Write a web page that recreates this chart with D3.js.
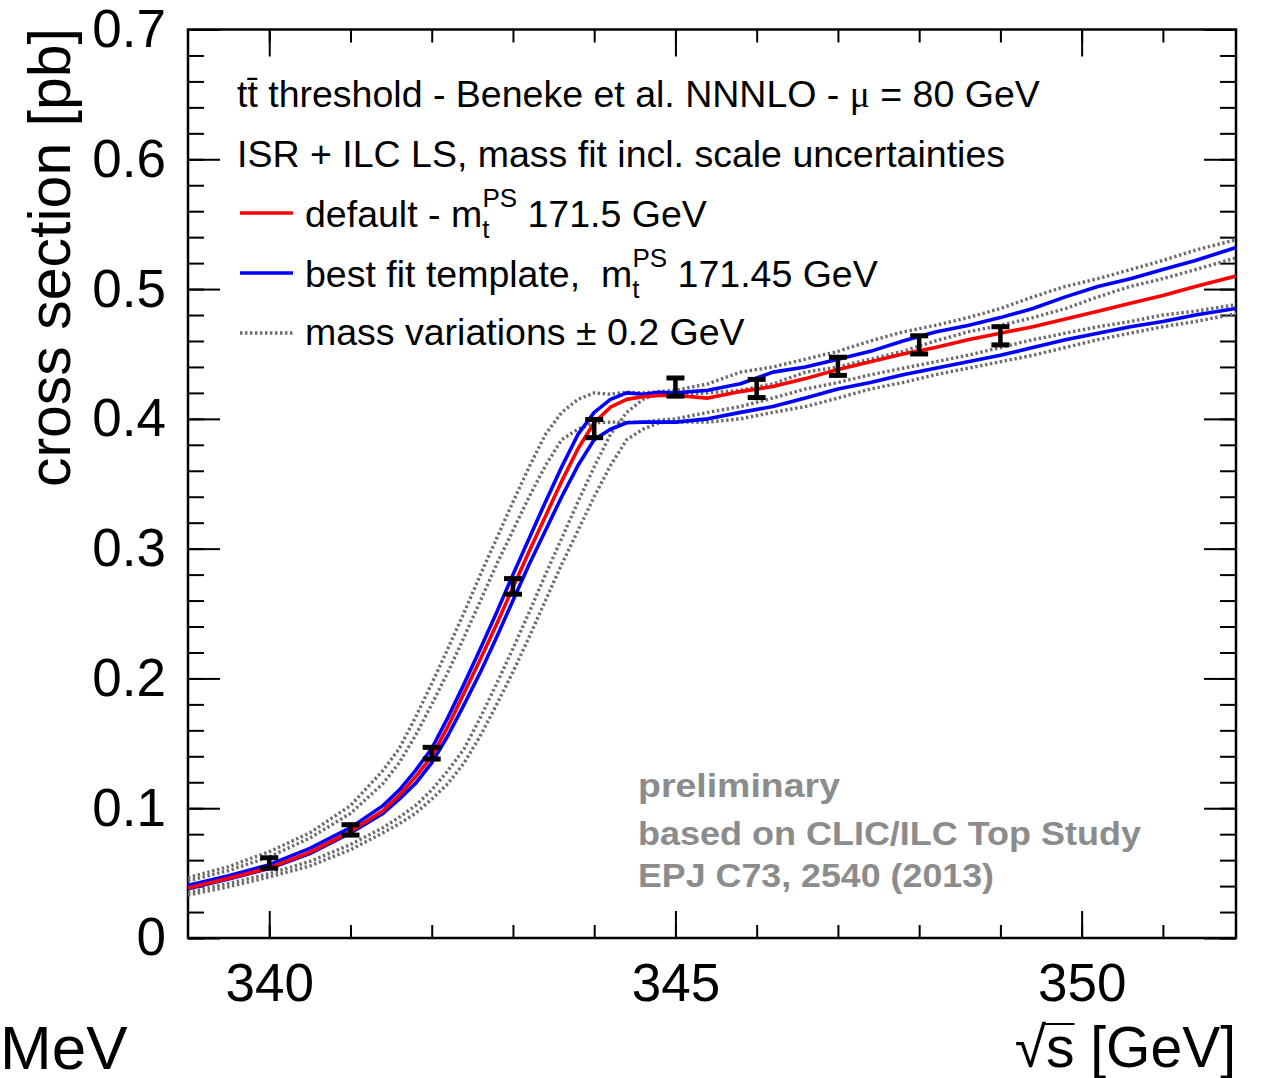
<!DOCTYPE html>
<html>
<head>
<meta charset="utf-8">
<script src="https://d3js.org/d3.v7.min.js"></script>
<style>
  body { margin: 0; background: #fff; }
  svg text { font-family: "Liberation Sans", Arial, Helvetica, sans-serif; fill: #000; }
  .axis path { display: none; }
  .axis line { stroke: #000; stroke-width: 2; }
  .axis text { font-size: 53px; }
  .curve { fill: none; stroke-width: 3.6; stroke-linejoin: round; }
  .dotted { fill: none; stroke: #6b6b6b; stroke-width: 3.4; stroke-dasharray: 2.4 2.6; }
  .legend text { font-size: 37.5px; white-space: pre; }
  .prelim text { font-size: 34px; font-weight: bold; fill: #8c8c8c; }
</style>
</head>
<body>
<script>
// sqrt(s) grid [GeV] shared by all curves
var sqrtS = [339.0, 339.5, 340.0, 340.5, 341.0, 341.4, 341.6, 341.8, 342.0, 342.2, 342.4, 342.6, 342.8,
             343.0, 343.2, 343.4, 343.6, 343.8, 344.0, 344.2, 344.4, 344.6, 344.8, 345.0, 345.4, 345.8,
             346.2, 346.6, 347.0, 347.4, 347.8, 348.2, 348.6, 349.0, 349.4, 349.8, 350.2, 350.6, 351.0,
             351.4, 351.9];

// default, m_t^PS = 171.5 GeV (red)
var defaultXs = [.0385, .046, .054, .066, .082, .098, .110, .124, .140, .163, .189, .215, .242,
                 .270, .298, .325, .352, .377, .397, .409, .415, .417, .418, .418, .416, .421,
                 .425, .431, .438, .444, .450, .455, .461, .466, .471, .477, .483, .489, .495,
                 .502, .510];

// best fit template, scale variation up / down (blue)
var fitUp = [.0405, .048, .0565, .069, .085, .102, .114, .129, .146, .170, .196, .223, .251,
             .280, .308, .336, .363, .388, .405, .415, .420, .419, .4205, .420, .422, .427,
             .436, .440, .446, .452, .460, .467, .472, .478, .485, .494, .502, .508, .515,
             .522, .532];
var fitDown = [.038, .0455, .0535, .065, .081, .096, .107, .119, .135, .156, .180, .205, .232,
               .260, .288, .314, .340, .364, .384, .392, .397, .3975, .3975, .3975, .400, .405,
               .4095, .416, .423, .428, .434, .439, .444, .449, .455, .461, .466, .471, .475,
               .480, .485];

// mass variations +-0.2 GeV (grey dotted)
var massUpHi = [.0465, .055, .0665, .081, .102, .129, .146, .170, .196, .223, .251, .280, .308,
                .336, .363, .388, .405, .415, .420, .419, .4205, .420, .421, .422, .427, .436,
                .440, .446, .452, .460, .467, .472, .478, .485, .494, .502, .508, .515, .522,
                .530, .538];
var massUpLo = [.035, .042, .0495, .059, .072, .085, .093, .102, .114, .129, .146, .170, .196,
                .223, .251, .280, .308, .336, .363, .388, .405, .415, .420, .419, .420, .422,
                .427, .436, .440, .446, .452, .460, .467, .472, .478, .485, .494, .502, .508,
                .515, .524];
var massDownHi = [.044, .052, .0625, .077, .096, .119, .135, .156, .180, .205, .232, .260, .288,
                  .314, .340, .364, .384, .392, .397, .3975, .3975, .3975, .399, .400, .405, .4095,
                  .416, .423, .428, .434, .439, .444, .449, .455, .461, .466, .471, .475, .480,
                  .483, .488];
var massDownLo = [.033, .0395, .047, .0555, .068, .081, .088, .096, .107, .119, .135, .156, .180,
                  .205, .232, .260, .288, .314, .340, .364, .384, .392, .397, .3975, .3975, .400,
                  .405, .4095, .416, .423, .428, .434, .439, .444, .449, .455, .461, .466, .471,
                  .475, .481];

// pseudo data points of the threshold scan
var scanS = [340, 341, 342, 343, 344, 345, 346, 347, 348, 349];
var scanXs = [.0578, .0833, .1424, .2709, .3925, .4245, .4234, .4405, .457, .464];
var scanErr = [.004, .004, .0045, .006, .007, .007, .007, .007, .007, .007];

// axis ticks
var xMajor = [340, 345, 350];
var xMinor = [340, 341, 342, 343, 344, 345, 346, 347, 348, 349, 350, 351];
var yMajor = [0, 0.1, 0.2, 0.3, 0.4, 0.5, 0.6, 0.7];
var yMinor = [];
for (var k = 0; k <= 35; k++) yMinor.push(k * 0.02);

var W = 1266, H = 1078;
var plotL = 188, plotR = 1236, plotT = 29.5, plotB = 938;

var svg = d3.select("body").append("svg")
  .attr("width", W)
  .attr("height", H);

var x = d3.scaleLinear().domain([339, 351.9]).range([plotL, plotR]);
var y = d3.scaleLinear().domain([0, 0.7]).range([plotB, plotT]);

svg.append("clipPath").attr("id", "plotclip")
  .append("rect")
  .attr("x", plotL).attr("y", plotT)
  .attr("width", plotR - plotL).attr("height", plotB - plotT);

//
// axes, ROOT style: ticks point inwards on all four sides
//
function yfmt(d) { return d === 0 ? "0" : d.toFixed(1); }

svg.append("g").attr("class", "axis")
  .attr("transform", "translate(0," + plotB + ")")
  .call(d3.axisBottom(x).tickValues(xMinor).tickSize(-13).tickFormat(""));
svg.append("g").attr("class", "axis")
  .attr("transform", "translate(0," + plotB + ")")
  .call(d3.axisBottom(x).tickValues(xMajor).tickSize(-27).tickPadding(25).tickFormat(d3.format("d")));
svg.append("g").attr("class", "axis")
  .attr("transform", "translate(0," + plotT + ")")
  .call(d3.axisTop(x).tickValues(xMinor).tickSize(-13).tickFormat(""));
svg.append("g").attr("class", "axis")
  .attr("transform", "translate(0," + plotT + ")")
  .call(d3.axisTop(x).tickValues(xMajor).tickSize(-27).tickFormat(""));

svg.append("g").attr("class", "axis")
  .attr("transform", "translate(" + plotL + ",0)")
  .call(d3.axisLeft(y).tickValues(yMinor).tickSize(-16).tickFormat(""));
svg.append("g").attr("class", "axis")
  .attr("transform", "translate(" + plotL + ",0)")
  .call(d3.axisLeft(y).tickValues(yMajor).tickSize(-32).tickPadding(22).tickFormat(yfmt));
svg.append("g").attr("class", "axis")
  .attr("transform", "translate(" + plotR + ",0)")
  .call(d3.axisRight(y).tickValues(yMinor).tickSize(-16).tickFormat(""));
svg.append("g").attr("class", "axis")
  .attr("transform", "translate(" + plotR + ",0)")
  .call(d3.axisRight(y).tickValues(yMajor).tickSize(-32).tickFormat(""));

svg.selectAll(".axis text").attr("fill", "#000");

// frame
svg.append("rect")
  .attr("x", plotL).attr("y", plotT)
  .attr("width", plotR - plotL).attr("height", plotB - plotT)
  .attr("fill", "none").attr("stroke", "#000").attr("stroke-width", 2.5);

//
// curves
//
var line = d3.line()
  .x(function(d, i) { return x(sqrtS[i]); })
  .y(function(d) { return y(d); });

var plot = svg.append("g").attr("clip-path", "url(#plotclip)");

[massUpHi, massUpLo, massDownHi, massDownLo].forEach(function(c) {
  plot.append("path").attr("class", "dotted").attr("d", line(c));
});
[fitDown, fitUp].forEach(function(c) {
  plot.append("path").attr("class", "curve").attr("stroke", "#0000ff").attr("d", line(c));
});
plot.append("path").attr("class", "curve").attr("stroke", "#ff0000").attr("d", line(defaultXs));

// error bars, drawn as bold "I" shapes
var bars = plot.selectAll("g.pt").data(scanS).enter().append("g").attr("class", "pt");
bars.append("line")
  .attr("x1", function(d) { return x(d); })
  .attr("x2", function(d) { return x(d); })
  .attr("y1", function(d, i) { return y(scanXs[i] - scanErr[i]); })
  .attr("y2", function(d, i) { return y(scanXs[i] + scanErr[i]); })
  .attr("stroke", "#000").attr("stroke-width", 4.5);
[-1, 1].forEach(function(s) {
  bars.append("line")
    .attr("x1", function(d) { return x(d) - 9; })
    .attr("x2", function(d) { return x(d) + 9; })
    .attr("y1", function(d, i) { return y(scanXs[i] + s * scanErr[i]); })
    .attr("y2", function(d, i) { return y(scanXs[i] + s * scanErr[i]); })
    .attr("stroke", "#000").attr("stroke-width", 5);
});

//
// axis titles
//
svg.append("text")
  .attr("transform", "translate(70,28) rotate(-90)")
  .attr("text-anchor", "end")
  .attr("font-size", 59)
  .text("cross section [pb]");

var xt = svg.append("text")
  .attr("x", plotR).attr("y", 1067)
  .attr("text-anchor", "end")
  .attr("font-size", 57)
  .text("\u221as [GeV]");
// bar of the root sign over the s
var sx0 = xt.node().getStartPositionOfChar(1).x,
    sx1 = xt.node().getEndPositionOfChar(1).x;
svg.append("line")
  .attr("x1", sx0 - 2).attr("x2", sx1)
  .attr("y1", 1024).attr("y2", 1024)
  .attr("stroke", "#000").attr("stroke-width", 2);

svg.append("text")
  .attr("x", 0).attr("y", 1069)
  .attr("font-size", 62)
  .text("MeV");

//
// legend
//
var lg = svg.append("g").attr("class", "legend");
var t1 = lg.append("text").attr("x", 237).attr("y", 107);
t1.append("tspan").text("tt\u0304 threshold - Beneke et al. NNNLO - ");
t1.append("tspan").attr("font-family", "Liberation Serif, serif").text("\u03bc");
t1.append("tspan").text(" = 80 GeV");
lg.append("text").attr("x", 237).attr("y", 167)
  .text("ISR + ILC LS, mass fit incl. scale uncertainties");

var entries = [
  {y: 213, base: 227, pre: "default - m", post: " 171.5 GeV", stroke: "#ff0000", cls: "curve"},
  {y: 273, base: 287, pre: "best fit template,  m", post: " 171.45 GeV", stroke: "#0000ff", cls: "curve"},
  {y: 333, base: 345, pre: "mass variations \u00b1 0.2 GeV", post: null, stroke: "#6b6b6b", cls: "dotted"}
];
entries.forEach(function(e) {
  lg.append("line")
    .attr("class", e.cls)
    .attr("x1", 240).attr("x2", 293)
    .attr("y1", e.y).attr("y2", e.y)
    .attr("stroke", e.stroke)
    .attr("stroke-width", e.cls === "curve" ? 3 : 2.5);
  var t = lg.append("text").attr("x", 305).attr("y", e.base);
  t.append("tspan").text(e.pre);
  if (e.post) {
    t.append("tspan").attr("font-size", 26).attr("dy", 11).text("t");
    t.append("tspan").attr("font-size", 26).attr("dx", -7).attr("dy", -31).text("PS");
    t.append("tspan").attr("dy", 20).text(e.post);
  }
});

//
// preliminary label
//
var pl = svg.append("g").attr("class", "prelim");
[["preliminary", 797, 202], ["based on CLIC/ILC Top Study", 845, 503], ["EPJ C73, 2540 (2013)", 887, 356]]
  .forEach(function(r) {
    pl.append("text")
      .attr("x", 638).attr("y", r[1])
      .attr("textLength", r[2]).attr("lengthAdjust", "spacingAndGlyphs")
      .text(r[0]);
  });
</script>
</body>
</html>
